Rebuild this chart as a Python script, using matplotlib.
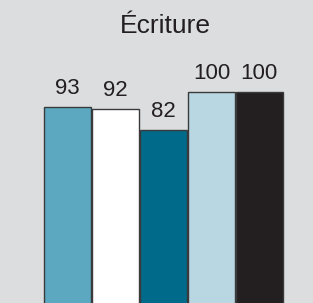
import matplotlib
matplotlib.use("Agg")
import matplotlib.pyplot as plt

title = "Écriture"
values = [93, 92, 82, 100, 100]
labels = ["93", "92", "82", "100", "100"]
colors = ["#5ba8c0", "#ffffff", "#006a8a", "#b8d7e2", "#231f20"]

bg = "#dcdddf"
plt.rcParams['font.family'] = ['Liberation Sans', 'DejaVu Sans']

fig = plt.figure(figsize=(3.13, 3.03), dpi=100, facecolor=bg)
ax = fig.add_axes([0, 0, 1, 1])
ax.set_facecolor(bg)

x = list(range(len(values)))
bars = ax.bar(x, values, width=0.985, color=colors, edgecolor="#3a3a3c", linewidth=1.0)

ax.set_xlim(-1.413, 5.12)
ax.set_ylim(0.4, 143.3)
ax.axis("off")

for xi, v, lab in zip(x, values, labels):
    ax.annotate(lab, (xi, v), xytext=(0, 9.4), textcoords="offset points",
                ha="center", va="baseline", fontsize=16, color="#231f20")

fig.text(165 / 313, 1 - 33 / 303, title, ha="center", va="baseline",
         fontsize=19, color="#231f20")

fig.savefig("out.png", dpi=100, facecolor=bg)
